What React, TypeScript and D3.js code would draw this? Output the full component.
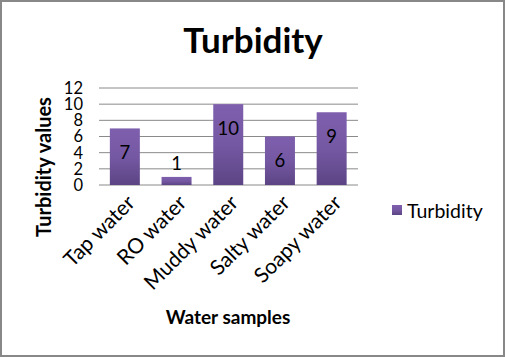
import React from "react";
import * as d3 from "d3";

const categories = ["Tap water", "RO water", "Muddy water", "Salty water", "Soapy water"];
const values = [7, 1, 10, 6, 9];
const yTicks = [0, 2, 4, 6, 8, 10, 12];
const seriesName = "Turbidity";

const W = 505, H = 357;
const FONT = "Lato, 'Open Sans', sans-serif";

export default function App() {
  const x = d3.scaleBand<string>().domain(categories).range([99, 357.5]).paddingInner(0.42).paddingOuter(0.21);
  const y = d3.scaleLinear().domain([0, 12]).range([185, 88]);
  const labelY = (v: number) => (v >= 3 ? y(v - 3) : y(v) - 13);
  return (
    <svg width={W} height={H} style={{ position: "absolute", left: 0, top: 0, background: "#fff" }} fontFamily={FONT}>
      <defs>
        <linearGradient id="barGrad" x1="0" y1="0" x2="0" y2="1">
          <stop offset="0" stopColor="#7e5fae" />
          <stop offset="0.5" stopColor="#7558a3" />
          <stop offset="1" stopColor="#5c4484" />
        </linearGradient>
      </defs>
      <rect x={1} y={1} width={W - 2} height={H - 2} fill="#fff" stroke="#888" strokeWidth={2} />
      <text x={253} y={53} textAnchor="middle" fontSize={35} fontWeight="bold" fill="#000">Turbidity</text>
      {yTicks.map((t) => (
        <g key={t}>
          <line x1={99} x2={358} y1={y(t)} y2={y(t)} stroke="#8a8a8a" strokeWidth={1} />
          <text x={83} y={y(t)} dy="0.36em" textAnchor="end" fontSize={16.5} fill="#000">{t}</text>
        </g>
      ))}
      {categories.map((c, i) => (
        <g key={c}>
          <rect x={x(c)} y={y(values[i])} width={x.bandwidth()} height={y(0) - y(values[i])} fill="url(#barGrad)" />
          <text x={(x(c) as number) + x.bandwidth() / 2} y={labelY(values[i])} dy="0.35em" textAnchor="middle" fontSize={18.5} fill="#000">{values[i]}</text>
          <text
            transform={`translate(${(x(c) as number) + x.bandwidth() / 2 + 6},${199}) rotate(-45)`}
            textAnchor="end"
            dy="0.35em"
            fontSize={21}
            fill="#000"
          >{c}</text>
        </g>
      ))}
      <text transform={`translate(44,${167}) rotate(-90)`} textAnchor="middle" dy="0.35em" fontSize={20} fontWeight="bold" fill="#000">Turbidity values</text>
      <text x={228} y={324} textAnchor="middle" fontSize={19} fontWeight="bold" fill="#000">Water samples</text>
      <rect x={392} y={205} width={10} height={10} fill="url(#barGrad)" />
      <text x={407} y={211} dy="0.35em" fontSize={19.5} fill="#000">{seriesName}</text>
    </svg>
  );
}
